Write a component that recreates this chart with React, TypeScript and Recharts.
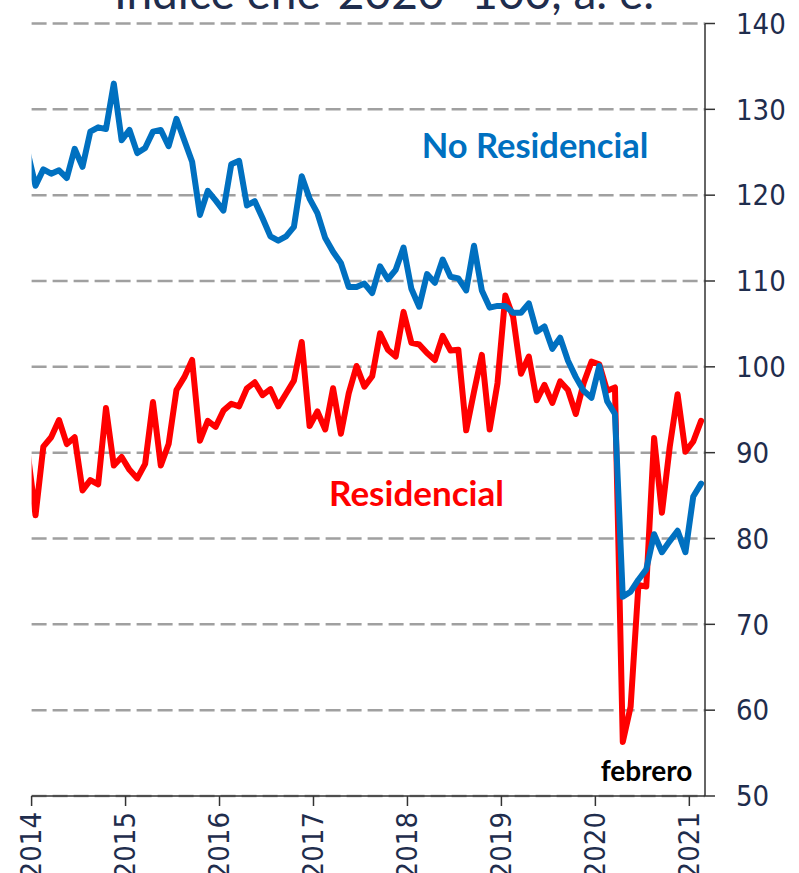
import React from "react";
import { LineChart, Line, XAxis, YAxis, CartesianGrid } from "recharts";

// First value of each series corresponds to Dec-2013, then monthly to Feb-2021
const yearLabels = ["2014", "2015", "2016", "2017", "2018", "2019", "2020", "2021"];
const yTicks = [50, 60, 70, 80, 90, 100, 110, 120, 130, 140];

const noResidencial = [
  125.0,
  121.1, 123.0, 122.5, 122.9, 122.0, 125.4, 123.3, 127.4, 127.9, 127.7, 133.0, 126.4,
  127.6, 124.9, 125.5, 127.4, 127.6, 125.7, 128.9, 126.4, 123.9, 117.7, 120.5, 119.4,
  118.2, 123.6, 124.0, 118.8, 119.3, 117.3, 115.2, 114.7, 115.2, 116.3, 122.2, 119.6,
  117.9, 115.0, 113.4, 112.1, 109.3, 109.3, 109.7, 108.6, 111.7, 110.2, 111.3, 113.9,
  109.1, 107.0, 110.8, 109.8, 112.5, 110.5, 110.3, 108.9, 114.1, 108.9, 106.9, 107.1,
  107.1, 106.3, 106.3, 107.4, 104.1, 104.7, 102.1, 103.4, 100.7, 98.8, 97.2, 96.4,
  100.1, 96.0, 94.5, 73.2, 73.8, 75.2, 76.4, 80.5, 78.4, 79.7, 80.9, 78.4,
  84.9, 86.4,
];

const residencial = [
  90.0,
  82.7, 90.7, 91.8, 93.8, 91.0, 91.8, 85.6, 86.8, 86.3, 95.2, 88.5, 89.5,
  88.0, 87.0, 88.7, 95.9, 88.5, 91.0, 97.3, 98.8, 100.8, 91.4, 93.7, 93.0,
  94.9, 95.7, 95.4, 97.5, 98.2, 96.7, 97.4, 95.4, 96.9, 98.4, 102.9, 93.1,
  94.8, 92.7, 97.5, 92.2, 96.9, 100.1, 97.7, 98.9, 103.9, 102.0, 101.2, 106.4,
  102.8, 102.6, 101.6, 100.8, 103.6, 101.9, 102.0, 92.6, 97.1, 101.4, 92.7, 98.1,
  108.3, 105.8, 99.2, 101.2, 96.1, 97.9, 95.8, 98.3, 97.3, 94.5, 98.1, 100.6,
  100.3, 97.2, 97.6, 56.3, 60.4, 74.6, 74.4, 91.7, 83.0, 90.7, 96.8, 90.1,
  91.3, 93.7,
];

const data = noResidencial.map((v, k) => ({ t: k - 1, nr: v, r: residencial[k] }));
const xTicks = yearLabels.map((_, k) => k * 12 - 0.5);

const NAVY = "#1F2D4D";
const TICK_FONT = "'DejaVu Sans Condensed', 'DejaVu Sans', sans-serif";

const XTick = (props: any) => {
  const { x, y, payload } = props;
  const idx = Math.round((payload.value + 0.5) / 12);
  const label = yearLabels[idx];
  const ty = y + 4;
  return (
    <text
      x={x}
      y={ty}
      transform={`rotate(-90 ${x} ${ty})`}
      textAnchor="end"
      dy="0.32em"
      fontSize={29}
      fontFamily={TICK_FONT}
      fill={NAVY}
    >
      {label}
    </text>
  );
};

export default function App() {
  return (
    <div style={{ position: "absolute", left: 0, top: 0, width: 799, height: 873, background: "#fff" }}>
      <LineChart
        width={799}
        height={873}
        data={data}
        margin={{ top: 23.5, right: 0, left: 31.6, bottom: 0 }}
      >
        <CartesianGrid
          horizontal={true}
          vertical={false}
          stroke="#A0A0A0"
          strokeWidth={2.5}
          strokeDasharray="15 6"
        />
        <XAxis
          dataKey="t"
          type="number"
          domain={[-0.5, 85.5]}
          allowDataOverflow={true}
          ticks={xTicks}
          interval={0}
          height={77}
          tickSize={10}
          tick={<XTick />}
          axisLine={{ stroke: "#333", strokeWidth: 1.5 }}
          tickLine={{ stroke: "#333", strokeWidth: 1.5 }}
        />
        <YAxis
          orientation="right"
          domain={[50, 140]}
          ticks={yTicks}
          interval={0}
          width={94}
          tickSize={10}
          tickMargin={21}
          tick={{ fill: NAVY, fontSize: 29, fontFamily: TICK_FONT, textAnchor: "start" }}
          axisLine={{ stroke: "#333", strokeWidth: 1.5 }}
          tickLine={{ stroke: "#333", strokeWidth: 1.5 }}
        />
        <Line
          type="linear"
          dataKey="r"
          stroke="#FF0000"
          strokeWidth={6}
          dot={false}
          activeDot={false}
          strokeLinejoin="round"
          strokeLinecap="round"
          isAnimationActive={false}
        />
        <Line
          type="linear"
          dataKey="nr"
          stroke="#0070C0"
          strokeWidth={6}
          dot={false}
          activeDot={false}
          strokeLinejoin="round"
          strokeLinecap="round"
          isAnimationActive={false}
        />
      </LineChart>
      <svg
        width={799}
        height={873}
        style={{ position: "absolute", left: 0, top: 0, pointerEvents: "none" }}
      >
        <text x={384} y={9} textAnchor="middle" fontSize={46} fontFamily="Lato, sans-serif" fill={NAVY}>
          Índice ene-2020=100, a. e.
        </text>
        <text x={535} y={158} textAnchor="middle" fontSize={34.5} fontWeight="bold" fontFamily="Lato, sans-serif" fill="#0070C0">
          No Residencial
        </text>
        <text x={416.5} y={506} textAnchor="middle" fontSize={35} fontWeight="bold" fontFamily="Lato, sans-serif" fill="#FF0000">
          Residencial
        </text>
        <text x={646.5} y={781} textAnchor="middle" fontSize={28} fontWeight="bold" fontFamily="Lato, sans-serif" fill="#000">
          febrero
        </text>
      </svg>
    </div>
  );
}
